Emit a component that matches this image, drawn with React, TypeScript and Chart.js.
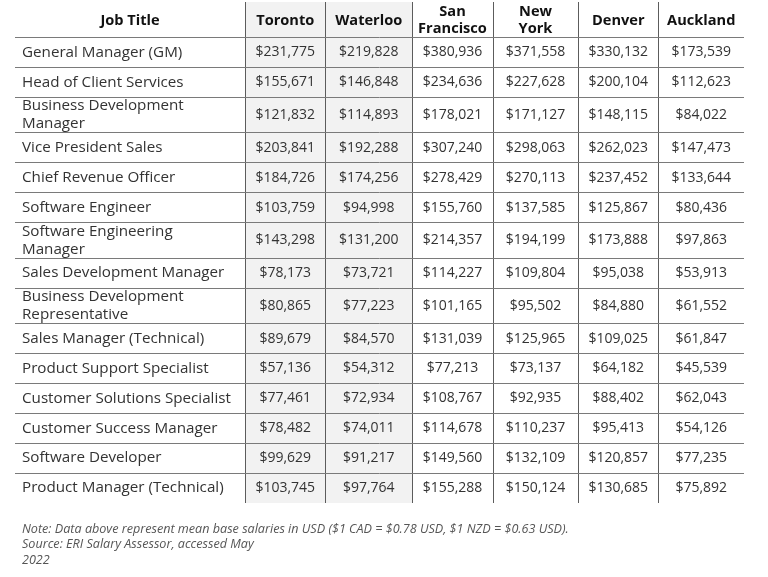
import React, { useEffect, useRef } from "react";
import { Chart, registerables } from "chart.js";

Chart.register(...registerables);

// ---------- data ----------
const cityHeaders: string[][] = [
  ["Toronto"],
  ["Waterloo"],
  ["San", "Francisco"],
  ["New", "York"],
  ["Denver"],
  ["Auckland"],
];
const firstHeader = "Job Title";

const jobTitles: string[][] = [
  ["General Manager (GM)"],
  ["Head of Client Services"],
  ["Business Development", "Manager"],
  ["Vice President Sales"],
  ["Chief Revenue Officer"],
  ["Software Engineer"],
  ["Software Engineering", "Manager"],
  ["Sales Development Manager"],
  ["Business Development", "Representative"],
  ["Sales Manager (Technical)"],
  ["Product Support Specialist"],
  ["Customer Solutions Specialist"],
  ["Customer Success Manager"],
  ["Software Developer"],
  ["Product Manager (Technical)"],
];

const toronto = [231775, 155671, 121832, 203841, 184726, 103759, 143298, 78173, 80865, 89679, 57136, 77461, 78482, 99629, 103745];
const waterloo = [219828, 146848, 114893, 192288, 174256, 94998, 131200, 73721, 77223, 84570, 54312, 72934, 74011, 91217, 97764];
const sanFrancisco = [380936, 234636, 178021, 307240, 278429, 155760, 214357, 114227, 101165, 131039, 77213, 108767, 114678, 149560, 155288];
const newYork = [371558, 227628, 171127, 298063, 270113, 137585, 194199, 109804, 95502, 125965, 73137, 92935, 110237, 132109, 150124];
const denver = [330132, 200104, 148115, 262023, 237452, 125867, 173888, 95038, 84880, 109025, 64182, 88402, 95413, 120857, 130685];
const auckland = [173539, 112623, 84022, 147473, 133644, 80436, 97863, 53913, 61552, 61847, 45539, 62043, 54126, 77235, 75892];

const cityValues = [toronto, waterloo, sanFrancisco, newYork, denver, auckland];

const notes = [
  "Note: Data above represent mean base salaries in USD ($1 CAD = $0.78 USD, $1 NZD = $0.63 USD).",
  "Source: ERI Salary Assessor, accessed May",
  "2022",
];

// ---------- layout (sizes, not data) ----------
const COL_WIDTHS = [230, 80.5, 86.5, 81, 85, 80.5, 85.5];
const HEADER_H = 35.5;
const ROW_H = 29.9;
const ROW_H_TALL = 35.6;
const SHADED_COLS = [1, 2];

const FONT = "'Open Sans', sans-serif";
const TITLE_FONT = `15.2px ${FONT}`;
const BODY_FONT = `14px ${FONT}`;
const HEAD_FONT = `bold 14.6px ${FONT}`;
const NOTE_FONT = `italic 12.6px ${FONT}`;

const colEdges: number[] = [0];
COL_WIDTHS.forEach((w) => colEdges.push(colEdges[colEdges.length - 1] + w));
const rowEdges: number[] = [0, HEADER_H];
jobTitles.forEach((t) =>
  rowEdges.push(rowEdges[rowEdges.length - 1] + (t.length > 1 ? ROW_H_TALL : ROW_H))
);
const colCenter = (c: number) => (colEdges[c] + colEdges[c + 1]) / 2;
const rowCenter = (r: number) => (rowEdges[r] + rowEdges[r + 1]) / 2;

const fmt = (v: number) => "$" + v.toLocaleString("en-US");

const tablePlugin = {
  id: "tablePlugin",
  beforeDraw(chart: any) {
    const { ctx, chartArea, scales } = chart;
    const x = scales.x;
    ctx.save();
    ctx.fillStyle = "#f2f2f2";
    const x0 = x.getPixelForValue(colEdges[SHADED_COLS[0]]);
    const x1 = x.getPixelForValue(colEdges[SHADED_COLS[SHADED_COLS.length - 1] + 1]);
    ctx.fillRect(x0, chartArea.top, x1 - x0, chartArea.bottom - chartArea.top);
    ctx.restore();
  },
  afterDraw(chart: any) {
    const { ctx, chartArea, scales } = chart;
    const x = scales.x;
    const y = scales.y;
    ctx.save();
    ctx.textBaseline = "middle";

    // header
    ctx.fillStyle = "#111";
    ctx.font = HEAD_FONT;
    ctx.textAlign = "center";
    const hy = y.getPixelForValue(rowCenter(0));
    const headers = [[firstHeader], ...cityHeaders];
    headers.forEach((lines, c) => {
      const cx = x.getPixelForValue(colCenter(c));
      const lh = 17;
      lines.forEach((ln, i) => {
        ctx.fillText(ln, cx, hy + (i - (lines.length - 1) / 2) * lh + 1);
      });
    });

    // job titles
    ctx.font = TITLE_FONT;
    ctx.fillStyle = "#333";
    ctx.textAlign = "left";
    jobTitles.forEach((lines, r) => {
      const cy = y.getPixelForValue(rowCenter(r + 1));
      const lh = 18;
      lines.forEach((ln, i) => {
        ctx.fillText(ln, chartArea.left + 7, cy + (i - (lines.length - 1) / 2) * lh);
      });
    });

    // values, from dataset elements
    ctx.font = BODY_FONT;
    ctx.textAlign = "center";
    chart.data.datasets.forEach((ds: any, di: number) => {
      const meta = chart.getDatasetMeta(di);
      meta.data.forEach((el: any, i: number) => {
        ctx.fillText(fmt(ds.data[i].v), el.x, el.y);
      });
    });

    // notes
    ctx.font = NOTE_FONT;
    ctx.fillStyle = "#555";
    ctx.textAlign = "left";
    notes.forEach((n, i) => {
      ctx.fillText(n, chartArea.left + 7, chartArea.bottom + 26 + i * 15.5);
    });
    ctx.restore();
  },
};

export default function App() {
  const ref = useRef<HTMLCanvasElement>(null);
  useEffect(() => {
    if (!ref.current) return;
    const datasets = cityValues.map((vals, ci) => ({
      label: cityHeaders[ci].join(" "),
      data: vals.map((v, r) => ({ x: colCenter(ci + 1), y: rowCenter(r + 1), v })),
      pointRadius: 0,
      pointHoverRadius: 0,
      showLine: false,
    }));
    const innerCols = colEdges.slice(1, colEdges.length - 1);
    const innerRows = rowEdges.slice(1, rowEdges.length - 1);
    const chart = new Chart(ref.current, {
      type: "scatter",
      data: { datasets },
      options: {
        animation: false,
        responsive: false,
        devicePixelRatio: 1,
        events: [],
        layout: { padding: { left: 15, right: 24, top: 2, bottom: 74 } },
        plugins: { legend: { display: false }, tooltip: { enabled: false } },
        scales: {
          x: {
            type: "linear",
            min: 0,
            max: colEdges[colEdges.length - 1],
            afterBuildTicks: (s: any) => {
              s.ticks = innerCols.map((v) => ({ value: v }));
            },
            ticks: { display: false },
            border: { display: false },
            grid: { color: "#5c5c5c", lineWidth: 1, drawTicks: false },
          },
          y: {
            type: "linear",
            reverse: true,
            min: 0,
            max: rowEdges[rowEdges.length - 1],
            afterBuildTicks: (s: any) => {
              s.ticks = innerRows.map((v) => ({ value: v }));
            },
            ticks: { display: false },
            border: { display: false },
            grid: { color: "#7a7a7a", lineWidth: 1, drawTicks: false },
          },
        },
      } as any,
      plugins: [tablePlugin],
    });
    return () => chart.destroy();
  }, []);
  return (
    <div style={{ position: "absolute", left: 0, top: 0, width: 768, height: 577, background: "#fff" }}>
      <canvas ref={ref} width={768} height={577} />
    </div>
  );
}
